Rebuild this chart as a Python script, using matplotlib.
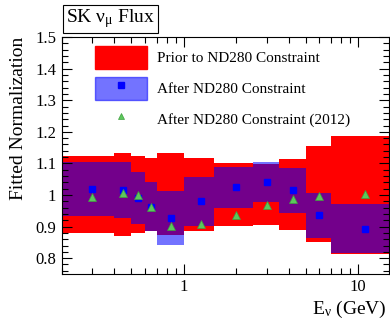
import numpy as np
import matplotlib
matplotlib.use("Agg")
import matplotlib.pyplot as plt
from matplotlib.patches import Patch
from matplotlib.lines import Line2D

plt.rcParams['font.family'] = ['Liberation Serif', 'DejaVu Serif']
plt.rcParams['mathtext.fontset'] = 'custom'
plt.rcParams['mathtext.rm'] = 'Liberation Serif'
plt.rcParams['mathtext.it'] = 'Liberation Serif'

# energy bin edges (GeV) and marker positions
edges = [0.1, 0.4, 0.5, 0.6, 0.7, 1.0, 1.5, 2.5, 3.5, 5.0, 7.0, 30.0]
centers = [0.3, 0.45, 0.55, 0.65, 0.85, 1.25, 2.0, 3.0, 4.25, 6.0, 11.0]

# prior band (before ND280 constraint)
prior_hi = [1.122, 1.132, 1.123, 1.117, 1.132, 1.117, 1.101, 1.097, 1.114, 1.154, 1.187]
prior_lo = [0.880, 0.871, 0.879, 0.885, 0.872, 0.885, 0.901, 0.905, 0.890, 0.851, 0.813]

# post-fit band (after ND280 constraint)
post_hi = [1.106, 1.106, 1.072, 1.040, 1.014, 1.058, 1.090, 1.106, 1.085, 1.005, 0.970]
post_lo = [0.935, 0.927, 0.908, 0.886, 0.842, 0.903, 0.958, 0.977, 0.943, 0.864, 0.816]

# central values
post_val = [1.020, 1.015, 0.990, 0.962, 0.927, 0.981, 1.026, 1.042, 1.016, 0.936, 0.893]
old_val = [0.995, 1.007, 1.000, 0.963, 0.901, 0.908, 0.937, 0.967, 0.988, 0.998, 1.004]

red = "#ff0000"
blue = "#0000ff"
green = "#5cc85c"

fig = plt.figure(figsize=(3.9, 3.2), dpi=100)
ax = fig.add_axes([0.158, 0.144, 0.839, 0.740])

#bands drawn as filled stairs
ax.stairs(prior_hi, edges, baseline=prior_lo, fill=True, color=red, lw=0)
ax.stairs(post_hi, edges, baseline=post_lo, fill=True, color=blue, alpha=0.55, lw=0)

ax.plot(centers, post_val, ls="none", marker="s", ms=4.5, color=blue, mec=blue)
ax.plot(centers, old_val, ls="none", marker="^", ms=5.5, color=green, mec="#3fa03f", mew=0.5)

ax.set_xscale("log")
ax.set_xlim(0.2, 15)
ax.set_ylim(0.75, 1.5)
ax.set_yticks([0.8, 0.9, 1.0, 1.1, 1.2, 1.3, 1.4, 1.5])
ax.set_yticklabels(["0.8", "0.9", "1", "1.1", "1.2", "1.3", "1.4", "1.5"])
ax.set_yticks(np.arange(0.76, 1.5, 0.02), minor=True)
ax.set_xticks([1, 10])
ax.set_xticklabels(["1", "10"])
ax.set_xticks([0.2, 0.3, 0.4, 0.5, 0.6, 0.7, 0.8, 0.9, 2, 3, 4, 5, 6, 7, 8, 9], minor=True)
ax.xaxis.set_minor_formatter(matplotlib.ticker.NullFormatter())

ax.tick_params(which="both", direction="in", top=True, right=True, labelsize=12, width=0.8)
ax.tick_params(which="major", length=7, pad=4)
ax.tick_params(which="minor", length=4)
for s in ax.spines.values():
    s.set_linewidth(0.8)

ax.set_xlabel(r"E$_{\mathrm{\nu}}$ (GeV)", loc="right", fontsize=14)
ax.xaxis.set_label_coords(0.993, -0.105)
ax.set_ylabel("Fitted Normalization", loc="top", fontsize=14, labelpad=6)

#legend
h_prior = Patch(facecolor=red, edgecolor=red)
h_post = (Patch(facecolor=blue, alpha=0.55, edgecolor=blue),
          Line2D([], [], ls="none", marker="s", ms=4, color=blue))
h_old = Line2D([], [], ls="none", marker="^", ms=5, color=green, mec="#3fa03f", mew=0.5)
ax.legend([h_prior, h_post, h_old],
          ["Prior to ND280 Constraint", "After ND280 Constraint", "After ND280 Constraint (2012)"],
          loc="upper left", bbox_to_anchor=(95 / 390, 1 - 46 / 320), bbox_transform=fig.transFigure,
          frameon=False, fontsize=11, handlelength=3.4, handleheight=1.9,
          handletextpad=0.65, labelspacing=0.55, borderpad=0, borderaxespad=0)

fig.text(66 / 390, 1 - 19 / 320, r"SK $\mathrm{\nu_{\mu}}$ Flux", fontsize=14, va="center", ha="left",
         bbox=dict(boxstyle="square,pad=0.15", facecolor="white", edgecolor="black", lw=0.8))

fig.savefig("out.png", dpi=100)
